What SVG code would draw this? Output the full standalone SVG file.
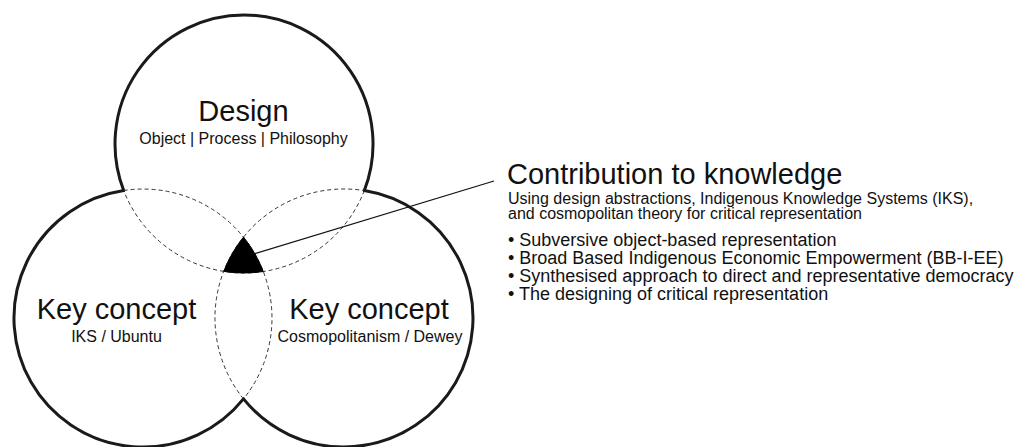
<svg xmlns="http://www.w3.org/2000/svg" width="1035" height="447" viewBox="0 0 1035 447">
<style>
.outer{fill:none;stroke:#1a1a1a;stroke-width:3;stroke-linecap:round}
.inner{fill:none;stroke:#333;stroke-width:1;stroke-dasharray:4 3}
.core{fill:#000;stroke:#000;stroke-width:1}
.lead{fill:none;stroke:#111;stroke-width:1.3}
text{font-family:"Liberation Sans",Arial,sans-serif;fill:#111}
.h{font-size:29px}
.s{font-size:16px}
.b{font-size:18px}
</style>
<rect width="1035" height="447" fill="#fff"/>
<g id="design">
<path class="outer" d="M123.7,190.5 A129,129 0 1,1 364.3,190.6"/>
<path class="inner" d="M364.3,190.6 A129,129 0 0,1 123.7,190.5"/>
<text class="h" x="243.5" y="121" text-anchor="middle">Design</text>
<text class="s" x="243.5" y="144" text-anchor="middle">Object | Process | Philosophy</text>
</g>
<g id="key-concept-iks">
<path class="outer" d="M243.5,398.9 A129,129 0 1,1 123.7,190.5"/>
<path class="inner" d="M123.7,190.5 A129,129 0 0,1 243.5,398.9"/>
<text class="h" x="116.5" y="319" text-anchor="middle">Key concept</text>
<text class="s" x="116.5" y="341.5" text-anchor="middle">IKS / Ubuntu</text>
</g>
<g id="key-concept-cosmo">
<path class="outer" d="M364.3,190.6 A129,129 0 1,1 243.5,398.9"/>
<path class="inner" d="M243.5,398.9 A129,129 0 0,1 364.3,190.6"/>
<text class="h" x="369" y="319" text-anchor="middle">Key concept</text>
<text class="s" x="370" y="341.5" text-anchor="middle">Cosmopolitanism / Dewey</text>
</g>
<g id="intersection">
<path class="core" d="M243.5,237.1 A129,129 0 0,1 263.3,271.5 A129,129 0 0,1 223.7,271.4 A129,129 0 0,1 243.5,237.1 Z"/>
</g>
<g id="connectors">
<line class="lead" x1="254" y1="254" x2="494" y2="181"/>
</g>
<g id="contribution">
<text class="h" x="507" y="184">Contribution to knowledge</text>
<text class="s" x="508" y="203.5">Using design abstractions, Indigenous Knowledge Systems (IKS),</text>
<text class="s" x="508" y="218.5">and cosmopolitan theory for critical representation</text>
<text class="b" x="508" y="246">• Subversive object-based representation</text>
<text class="b" x="508" y="264">• Broad Based Indigenous Economic Empowerment (BB-I-EE)</text>
<text class="b" x="508" y="282">• Synthesised approach to direct and representative democracy</text>
<text class="b" x="508" y="300">• The designing of critical representation</text>
</g>
</svg>
